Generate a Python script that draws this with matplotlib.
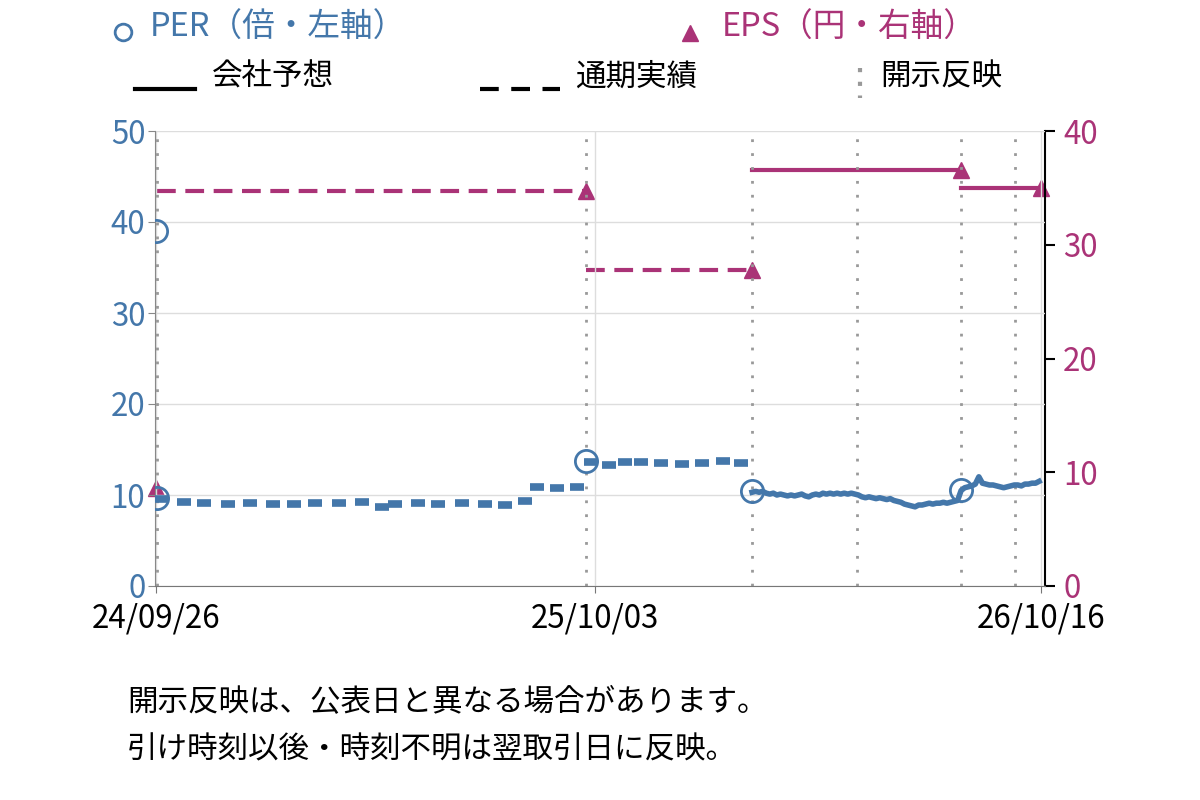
import numpy as np
import pandas as pd
import matplotlib.pyplot as plt
from matplotlib.lines import Line2D

plt.rcParams['font.family'] = ['Noto Sans CJK JP', 'DejaVu Sans']

blue = '#4477AA'
purple = '#AA3377'

# PER (weekly-ish samples, first part)
dash_dates = ['2024-10-01', '2024-10-20', '2024-11-06', '2024-11-26', '2024-12-15',
              '2025-01-03', '2025-01-21', '2025-02-08', '2025-02-28', '2025-03-20',
              '2025-04-06', '2025-04-17', '2025-05-06', '2025-05-23', '2025-06-12',
              '2025-07-02', '2025-07-19', '2025-08-05', '2025-08-15', '2025-09-01',
              '2025-09-18', '2025-09-30', '2025-10-15', '2025-10-28', '2025-11-11',
              '2025-11-28', '2025-12-16', '2026-01-02', '2026-01-19', '2026-02-04']
dash_per = [9.6, 9.2, 9.1, 9.0, 9.1, 9.0, 9.0, 9.1, 9.1, 9.2,
            8.7, 9.0, 9.1, 9.0, 9.1, 9.0, 8.9, 9.3, 10.9, 10.8,
            10.9, 13.6, 13.3, 13.6, 13.6, 13.5, 13.4, 13.5, 13.7, 13.5]

# PER (continuous part, every 3 days from 2026-02-13)
cont_start = '2026-02-13'
cont_per = [10.3, 10.4, 10.3, 10.4, 10.2, 10.1, 10.2, 10.0, 10.1, 10.0,
            9.9, 10.0, 9.9, 10.0, 10.1, 9.9, 9.8, 10.0, 10.1, 10.0,
            10.2, 10.1, 10.2, 10.1, 10.2, 10.1, 10.2, 10.1, 10.2, 10.1,
            10.0, 9.8, 9.7, 9.8, 9.7, 9.6, 9.7, 9.6, 9.5, 9.6,
            9.4, 9.3, 9.2, 9.0, 8.9, 8.8, 8.7, 8.9, 8.9, 9.0,
            9.1, 9.0, 9.1, 9.1, 9.2, 9.1, 9.2, 9.3, 9.4, 10.5,
            10.8, 10.9, 11.0, 11.2, 12.0, 11.3, 11.2, 11.1, 11.1, 11.0,
            10.9, 10.8, 10.9, 11.0, 11.1, 11.1, 11.0, 11.2, 11.2, 11.3,
            11.3, 11.5]

# PER at disclosure
circle_dates = ['2024-09-26', '2024-09-27', '2025-09-25', '2026-02-13', '2026-08-09']
circle_per = [39.0, 9.7, 13.7, 10.4, 10.5]

# EPS segments
eps_start = ['2024-09-27', '2025-09-25', '2026-02-13', '2026-08-09']
eps_end = ['2025-09-25', '2026-02-13', '2026-08-09', '2026-10-16']
eps_vals = [34.7, 27.8, 36.6, 35.0]
eps_kind = ['actual', 'actual', 'forecast', 'forecast']
eps_first_date = '2024-09-26'
eps_first_val = 8.6

disclosure_dates = ['2024-09-27', '2025-09-25', '2026-02-13', '2026-05-13', '2026-08-09', '2026-09-24']
xtick_dates = ['2024-09-26', '2025-10-03', '2026-10-16']
xtick_labels = ['24/09/26', '25/10/03', '26/10/16']

fig = plt.figure(figsize=(12, 8), dpi=100)
ax = fig.add_axes([155/1200, 1-586/800, 890/1200, 455/800])
ax2 = ax.twinx()
ax.set_zorder(ax2.get_zorder()+1)
ax.patch.set_visible(False)

fs = 22
fs_tick = 22.5
fs_head = 23.5

# disclosure lines
for d in disclosure_dates:
    ax.axvline(pd.Timestamp(d), color='#999999', lw=2, ls=(0, (1, 4)), zorder=1)

# PER
dd = pd.to_datetime(dash_dates)
ax.plot(dd, dash_per, ls='none', marker='_', ms=10, mew=5.5, color=blue, zorder=3)
cd = pd.date_range(cont_start, periods=len(cont_per), freq='3D')
ax.plot(cd, cont_per, color=blue, lw=4, zorder=3)
ax.plot(pd.to_datetime(circle_dates), circle_per, ls='none', marker='o', ms=16,
        mfc='none', mec=blue, mew=2, zorder=4)

# EPS
for s, e, v, k in zip(eps_start, eps_end, eps_vals, eps_kind):
    ls = (0, (4.5, 2.3)) if k == 'actual' else '-'
    ax2.plot([pd.Timestamp(s), pd.Timestamp(e)], [v, v], color=purple, lw=3, ls=ls)
    ax2.plot(pd.Timestamp(e), v, marker='^', ms=11, color=purple, ls='none', clip_on=False)
ax2.plot(pd.Timestamp(eps_first_date), eps_first_val, marker='^', ms=11, color=purple,
         ls='none', clip_on=False)

ax.set_xlim(pd.Timestamp('2024-09-25 12:00'), pd.Timestamp('2026-10-19'))
ax.set_ylim(0, 50)
ax2.set_ylim(0, 40)
ax.set_yticks(np.arange(0, 51, 10))
ax2.set_yticks(np.arange(0, 41, 10))
ax.set_xticks(pd.to_datetime(xtick_dates))
ax.set_xticklabels(xtick_labels)

ax.grid(True, color='#dddddd', lw=1)
ax.set_axisbelow(True)

for a in (ax, ax2):
    a.spines['top'].set_visible(False)
ax.spines['left'].set_color('#888888')
ax.spines['bottom'].set_color('#777777')
ax.spines['right'].set_visible(False)
ax2.spines['left'].set_visible(False)
ax2.spines['bottom'].set_visible(False)
ax2.spines['right'].set_color('black')
ax2.spines['right'].set_linewidth(1.5)

ax.tick_params(axis='y', colors='#888888', labelcolor=blue, labelsize=fs_tick, length=5, pad=2)
ax.tick_params(axis='x', colors='#777777', labelcolor='black', labelsize=fs_tick, length=5, pad=7)
ax2.tick_params(axis='y', colors='black', labelcolor=purple, labelsize=fs_tick, length=7, width=1.5, pad=6)

# legend
fig.add_artist(Line2D([123/1200], [1-32/800], marker='o', ms=12, mfc='none', mec=blue, mew=2))
fig.text(150/1200, 1-28/800, 'PER（倍・左軸）', color=blue, fontsize=fs_head, va='center')
fig.add_artist(Line2D([690/1200], [1-33/800], marker='^', ms=11, color=purple))
fig.text(722/1200, 1-28/800, 'EPS（円・右軸）', color=purple, fontsize=fs_head, va='center')

fig.add_artist(Line2D([135/1200, 195/1200], [1-89/800, 1-89/800], color='black', lw=3))
fig.text(212/1200, 1-77/800, '会社予想', color='black', fontsize=fs, va='center')
fig.add_artist(Line2D([480/1200, 560/1200], [1-89/800, 1-89/800], color='black', lw=3,
                      ls=(0, (4.5, 3))))
fig.text(575/1200, 1-77/800, '通期実績', color='black', fontsize=fs, va='center')
fig.add_artist(Line2D([860/1200, 860/1200], [1-68/800, 1-98/800], color='#999999', lw=3,
                      ls=(0, (1, 2.3))))
fig.text(880/1200, 1-77/800, '開示反映', color='black', fontsize=fs, va='center')

fig.text(127/1200, 1-703/800, '開示反映は、公表日と異なる場合があります。', fontsize=fs, va='center')
fig.text(127/1200, 1-750/800, '引け時刻以後・時刻不明は翌取引日に反映。', fontsize=fs, va='center')

fig.savefig('out.png', dpi=100)
